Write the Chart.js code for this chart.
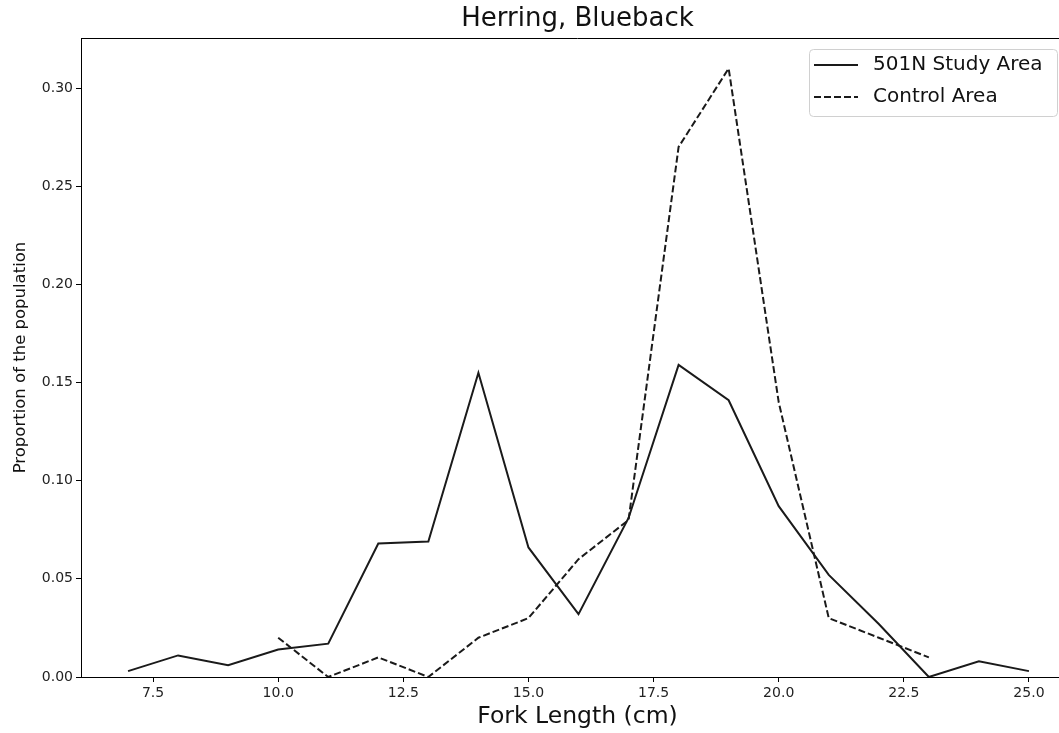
<!DOCTYPE html>
<html>
<head>
<meta charset="utf-8">
<title>Herring, Blueback</title>
<script src="https://cdn.jsdelivr.net/npm/chart.js@4.4.1/dist/chart.umd.min.js"></script>
<style>
  html, body { margin: 0; padding: 0; background: #fff; overflow: hidden; }
  #wrap { width: 1080px; height: 733px; }
</style>
</head>
<body>
<div id="wrap"><canvas id="lengthChart" width="1080" height="733"></canvas></div>
<script>
// fork length bins (cm) and proportion of the population in each bin
const studyLengths = [7, 8, 9, 10, 11, 12, 13, 14, 15, 16, 17, 18, 19, 20, 21, 22, 23, 24, 25];
const studyArea = [0.003, 0.011, 0.006, 0.014, 0.017, 0.068, 0.069, 0.155, 0.066, 0.032, 0.081, 0.159, 0.141, 0.087, 0.052, 0.027, 0.0, 0.008, 0.003];

const controlLengths = [10, 11, 12, 13, 14, 15, 16, 17, 18, 19, 20, 21, 22, 23];
const controlArea = [0.02, 0.0, 0.01, 0.0, 0.02, 0.03, 0.06, 0.08, 0.27, 0.31, 0.14, 0.03, 0.02, 0.01];

const xTicks = [7.5, 10.0, 12.5, 15.0, 17.5, 20.0, 22.5, 25.0];
const yTicks = [0.00, 0.05, 0.10, 0.15, 0.20, 0.25, 0.30];

const seriesNames = ['501N Study Area', 'Control Area'];
const chartTitle = 'Herring, Blueback';

const lineColor = '#1a1a1a';
const dash = [7, 3];
const font = 'DejaVu Sans';

function toPoints(xs, ys) {
    return xs.map(function(x, i) { return { x: x, y: ys[i] }; });
}

// title over the plot area, top spine, and a boxed legend in the upper right
const decorations = {
    id: 'decorations',
    afterDraw: function(chart) {
        const ctx = chart.ctx;
        const area = chart.chartArea;
        ctx.save();

        ctx.strokeStyle = '#000';
        ctx.lineWidth = 1;
        ctx.beginPath();
        ctx.moveTo(area.left, area.top + 0.5);
        ctx.lineTo(area.right, area.top + 0.5);
        ctx.stroke();

        ctx.fillStyle = '#111';
        ctx.font = '26px "' + font + '"';
        ctx.textAlign = 'center';
        ctx.textBaseline = 'middle';
        ctx.fillText(chartTitle, (area.left + area.right) / 2, 19);

        const right = 1057;
        const left = right - 248;
        const top = area.top + 11;
        const h = 67;
        ctx.beginPath();
        ctx.roundRect(left + 0.5, top + 0.5, right - left, h, 4);
        ctx.fillStyle = 'rgba(255,255,255,0.8)';
        ctx.fill();
        ctx.strokeStyle = '#d0d0d0';
        ctx.stroke();

        const rows = [top + 16, top + 48];
        ctx.font = '20px "' + font + '"';
        ctx.textAlign = 'left';
        rows.forEach(function(y, i) {
            ctx.strokeStyle = lineColor;
            ctx.lineWidth = 2;
            ctx.setLineDash(i === 1 ? dash : []);
            ctx.beginPath();
            ctx.moveTo(left + 5, y);
            ctx.lineTo(left + 49, y);
            ctx.stroke();
            ctx.setLineDash([]);
            ctx.fillStyle = '#111';
            ctx.fillText(seriesNames[i], left + 64, y);
        });
        ctx.restore();
    }
};

const ctx = document.getElementById('lengthChart').getContext('2d');
const lengthChart = new Chart(ctx, {
    type: 'line',
    data: {
        datasets: [{
            label: seriesNames[0],
            data: toPoints(studyLengths, studyArea),
            borderColor: lineColor,
            borderWidth: 2,
            pointRadius: 0,
            tension: 0,
            fill: false
        }, {
            label: seriesNames[1],
            data: toPoints(controlLengths, controlArea),
            borderColor: lineColor,
            borderWidth: 2,
            borderDash: dash,
            pointRadius: 0,
            tension: 0,
            fill: false
        }]
    },
    options: {
        responsive: false,
        animation: false,
        layout: { padding: { top: 38, right: 6, left: 0, bottom: 0 } },
        plugins: {
            legend: { display: false },
            tooltip: { enabled: false },
            title: { display: false }
        },
        scales: {
            x: {
                type: 'linear',
                min: 6.06,
                max: 25.9,
                afterBuildTicks: function(scale) {
                    scale.ticks = xTicks.map(function(v) { return { value: v }; });
                },
                afterFit: function(scale) { scale.height = 56; },
                grid: { drawOnChartArea: false, drawTicks: true, tickLength: 5, color: '#000' },
                border: { display: true, color: '#000', width: 1 },
                ticks: {
                    color: '#222',
                    padding: 3,
                    maxRotation: 0,
                    font: { family: font, size: 14 },
                    callback: function(v) { return Number(v).toFixed(1); }
                },
                title: {
                    display: true,
                    text: 'Fork Length (cm)',
                    color: '#111',
                    font: { family: font, size: 23.5 },
                    padding: { top: 0, bottom: 2 }
                }
            },
            y: {
                min: 0,
                max: 0.3255,
                afterBuildTicks: function(scale) {
                    scale.ticks = yTicks.map(function(v) { return { value: v }; });
                },
                afterFit: function(scale) { scale.width = 81; },
                grid: { drawOnChartArea: false, drawTicks: true, tickLength: 5, color: '#000' },
                border: { display: true, color: '#000', width: 1 },
                ticks: {
                    color: '#222',
                    padding: 3,
                    font: { family: font, size: 14 },
                    callback: function(v) { return Number(v).toFixed(2); }
                },
                title: {
                    display: true,
                    text: 'Proportion of the population',
                    color: '#111',
                    font: { family: font, size: 16.5 },
                    padding: { top: 11, bottom: 0 }
                }
            }
        }
    },
    plugins: [decorations]
});
</script>
</body>
</html>
